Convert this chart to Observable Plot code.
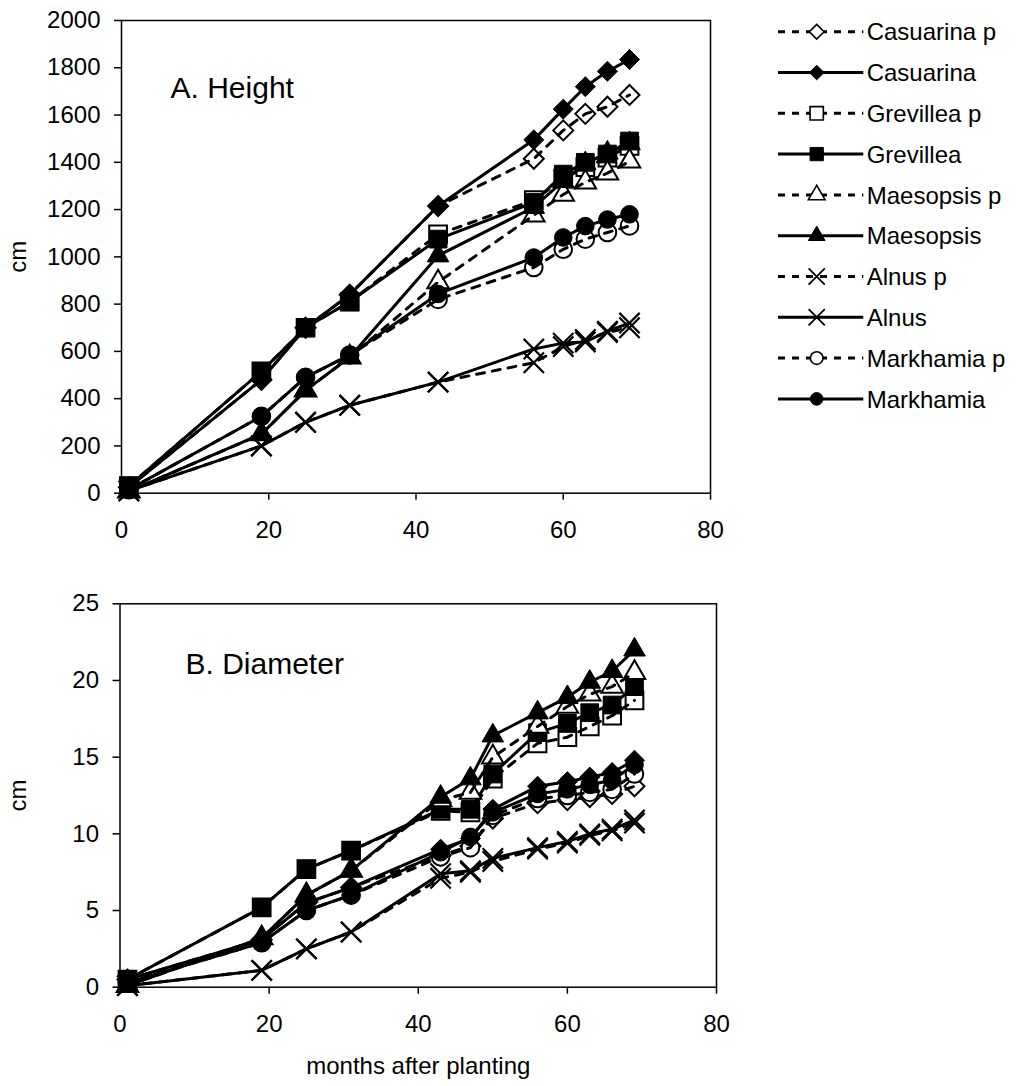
<!DOCTYPE html>
<html><head><meta charset="utf-8">
<script src="https://cdn.jsdelivr.net/npm/d3@7"></script>
<script src="https://cdn.jsdelivr.net/npm/@observablehq/plot@0.6"></script>
<style>
body{margin:0;background:#fff;font-family:"Liberation Sans",Arial,sans-serif;}
#wrap{position:relative;width:1019px;height:1086px;overflow:hidden;background:#fff;}
#wrap > svg{position:absolute;background:none;max-width:none;overflow:visible;}
</style></head><body><div id="wrap"></div>
<script>
// ---------- data ----------
const monthsHeight = [1, 19, 25, 31, 43, 56, 60, 63, 66, 69];
const monthsDiameter = [1, 19, 25, 31, 43, 47, 50, 56, 60, 63, 66, 69];
const xTicks = [0, 20, 40, 60, 80];
const heightTicks = [0, 200, 400, 600, 800, 1000, 1200, 1400, 1600, 1800, 2000];
const diameterTicks = [0, 5, 10, 15, 20, 25];
const seriesNames = ["Casuarina p", "Casuarina", "Grevillea p", "Grevillea", "Maesopsis p", "Maesopsis", "Alnus p", "Alnus", "Markhamia p", "Markhamia"];

// A. Height (cm)
const heightCasuarinaP = [25, 480, 700, 840, 1215, 1415, 1535, 1605, 1635, 1685];
const heightCasuarina  = [25, 480, 700, 840, 1215, 1495, 1625, 1720, 1785, 1835];
const heightGrevilleaP = [30, 515, 700, 810, 1095, 1240, 1330, 1380, 1420, 1470];
const heightGrevillea  = [30, 515, 700, 810, 1075, 1230, 1350, 1400, 1435, 1490];
const heightMaesopsisP = [8, 250, 435, 575, 893, 1176, 1264, 1316, 1354, 1404];
const heightMaesopsis  = [8, 250, 435, 575, 1005, 1210, 1320, 1395, 1440, 1480];
const heightAlnusP     = [10, 200, 300, 372, 470, 552, 620, 650, 680, 700];
const heightAlnus      = [10, 200, 300, 372, 470, 610, 635, 640, 685, 720];
const heightMarkhamiaP = [15, 325, 490, 585, 820, 955, 1032, 1075, 1103, 1131];
const heightMarkhamia  = [15, 325, 490, 585, 843, 997, 1082, 1130, 1158, 1180];

// B. Diameter (cm)
const diameterCasuarinaP = [0.5, 3.1, 5.5, 6.5, 8.6, 9.2, 11.0, 12.0, 12.2, 12.4, 12.6, 13.1];
const diameterCasuarina  = [0.5, 3.1, 5.5, 6.5, 9.0, 9.7, 11.6, 13.1, 13.4, 13.7, 14.0, 14.8];
const diameterGrevilleaP = [0.5, 5.2, 7.7, 8.9, 11.5, 11.4, 13.6, 15.9, 16.3, 17.0, 17.7, 18.7];
const diameterGrevillea  = [0.5, 5.2, 7.7, 8.9, 11.6, 11.6, 13.9, 16.6, 17.2, 17.9, 18.4, 19.6];
const diameterMaesopsisP = [0.1, 3.2, 6.0, 7.6, 12.2, 12.7, 15.0, 17.0, 18.3, 19.1, 19.6, 20.5];
const diameterMaesopsis  = [0.1, 3.2, 6.0, 7.6, 12.4, 13.6, 16.4, 17.9, 18.9, 19.9, 20.6, 22.0];
const diameterAlnusP     = [0.1, 1.1, 2.5, 3.6, 7.1, 7.5, 8.2, 9.0, 9.4, 9.9, 10.2, 10.7];
const diameterAlnus      = [0.1, 1.1, 2.5, 3.6, 7.4, 7.6, 8.4, 9.1, 9.5, 10.0, 10.3, 10.9];
const diameterMarkhamiaP = [0.3, 2.9, 5.0, 6.0, 8.5, 9.1, 11.2, 12.3, 12.5, 12.7, 12.9, 13.9];
const diameterMarkhamia  = [0.3, 2.9, 5.0, 6.0, 8.8, 9.8, 11.4, 12.6, 12.9, 13.2, 13.5, 14.5];

const heightValues = {
  "Casuarina p": heightCasuarinaP, "Casuarina": heightCasuarina,
  "Grevillea p": heightGrevilleaP, "Grevillea": heightGrevillea,
  "Maesopsis p": heightMaesopsisP, "Maesopsis": heightMaesopsis,
  "Alnus p": heightAlnusP, "Alnus": heightAlnus,
  "Markhamia p": heightMarkhamiaP, "Markhamia": heightMarkhamia
};
const diameterValues = {
  "Casuarina p": diameterCasuarinaP, "Casuarina": diameterCasuarina,
  "Grevillea p": diameterGrevilleaP, "Grevillea": diameterGrevillea,
  "Maesopsis p": diameterMaesopsisP, "Maesopsis": diameterMaesopsis,
  "Alnus p": diameterAlnusP, "Alnus": diameterAlnus,
  "Markhamia p": diameterMarkhamiaP, "Markhamia": diameterMarkhamia
};

// ---------- style ----------
const FONT = "'Liberation Sans', Arial, sans-serif";
const genusSymbol = {Casuarina: "diamond2", Grevillea: "square", Maesopsis: "triangle", Alnus: "times", Markhamia: "circle"};
const d3Symbol = {diamond2: d3.symbolDiamond2, square: d3.symbolSquare, triangle: d3.symbolTriangle, times: d3.symbolTimes, circle: d3.symbolCircle};
const chartR = {diamond2: 9, square: 10, triangle: 8, times: 9.3, circle: 8.8};
const legendR = {diamond2: 6.6, square: 7.5, triangle: 6.2, times: 7.4, circle: 6.3};

function styleOf(name) {
  const open = name.endsWith(" p");
  const sym = genusSymbol[name.replace(" p", "")];
  return {
    open, sym,
    fill: sym === "times" ? "none" : (open ? "white" : "black"),
    markerStroke: sym === "times" ? 2.2 : (open ? 2 : 1),
    dash: open ? "8,8" : null
  };
}

function seriesMarks(months, values) {
  const marks = [];
  for (const name of seriesNames) {
    const s = styleOf(name);
    const rows = months.map((m, i) => ({month: m, value: values[name][i], series: name}));
    marks.push(Plot.dot(rows, {x: "month", y: "value", symbol: s.sym, r: chartR[s.sym], fill: s.fill, stroke: "black", strokeWidth: s.markerStroke}));
    marks.push(Plot.line(rows, {x: "month", y: "value", stroke: "black", strokeWidth: 3, strokeDasharray: s.dash ?? undefined}));
  }
  return marks;
}

const wrap = document.getElementById("wrap");

// ---------- A. Height ----------
const topPlot = Plot.plot({
  width: 740, height: 560,
  marginLeft: 121, marginRight: 30, marginTop: 20, marginBottom: 67.3,
  x: {domain: [0, 80]},
  y: {domain: [0, 2000]},
  style: {fontFamily: FONT, fontSize: "24px", color: "black", background: "none"},
  marks: [
    Plot.frame({stroke: "black", strokeWidth: 1.5}),
    Plot.axisX({ticks: xTicks, tickFormat: "d", tickSize: 7, tickPadding: 21, fontSize: 24, strokeWidth: 1.5, label: null}),
    Plot.axisY({ticks: heightTicks, tickFormat: "d", tickSize: 7, tickPadding: 14, fontSize: 24, strokeWidth: 1.5,
      label: "cm", labelAnchor: "center", labelArrow: "none", labelOffset: 113}),
    ...seriesMarks(monthsHeight, heightValues),
    Plot.text(["A. Height"], {frameAnchor: "top-left", dx: 49, dy: 56, lineAnchor: "top", textAnchor: "start", fontSize: 30, fill: "black"})
  ]
});
topPlot.style.left = "0px"; topPlot.style.top = "0px";
wrap.appendChild(topPlot);

// ---------- B. Diameter ----------
const bottomPlot = Plot.plot({
  width: 740, height: 546,
  marginLeft: 119.5, marginRight: 24, marginTop: 63.3, marginBottom: 99.3,
  x: {domain: [0, 80]},
  y: {domain: [0, 25]},
  style: {fontFamily: FONT, fontSize: "24px", color: "black", background: "none"},
  marks: [
    Plot.frame({stroke: "black", strokeWidth: 1.5}),
    Plot.axisX({ticks: xTicks, tickFormat: "d", tickSize: 7, tickPadding: 21, fontSize: 24, strokeWidth: 1.5,
      label: "months after planting", labelAnchor: "center", labelArrow: "none", labelOffset: 87}),
    Plot.axisY({ticks: diameterTicks, tickFormat: "d", tickSize: 7, tickPadding: 14, fontSize: 24, strokeWidth: 1.5,
      label: "cm", labelAnchor: "center", labelArrow: "none", labelOffset: 111.5}),
    ...seriesMarks(monthsDiameter, diameterValues),
    Plot.text(["B. Diameter"], {frameAnchor: "top-left", dx: 65.5, dy: 48.4, lineAnchor: "top", textAnchor: "start", fontSize: 30, fill: "black"})
  ]
});
bottomPlot.style.left = "0px"; bottomPlot.style.top = "540px";
wrap.appendChild(bottomPlot);

// ---------- legend ----------
const legendTop = 31.7, legendStep = 40.8;
const legend = d3.create("svg").attr("width", 279).attr("height", 430)
  .style("left", "740px").style("top", "0px")
  .attr("font-family", FONT).attr("font-size", 24);
seriesNames.forEach((name, i) => {
  const s = styleOf(name);
  const y = legendTop + i * legendStep;
  const g = legend.append("g").attr("transform", `translate(0,${y})`);
  g.append("line").attr("x1", 38).attr("x2", 123.3).attr("y1", 0).attr("y2", 0)
    .attr("stroke", "black").attr("stroke-width", 3).attr("stroke-dasharray", s.dash ? "7,7" : null);
  g.append("path").attr("d", d3.symbol(d3Symbol[s.sym], Math.PI * legendR[s.sym] ** 2)())
    .attr("transform", "translate(76.7,0)")
    .attr("fill", s.fill).attr("stroke", "black").attr("stroke-width", s.sym === "times" ? 1.8 : (s.open ? 1.6 : 1));
  g.append("text").attr("x", 126.7).attr("y", 0).attr("dy", "0.36em").attr("fill", "black").text(name);
});
wrap.appendChild(legend.node());
</script></body></html>
